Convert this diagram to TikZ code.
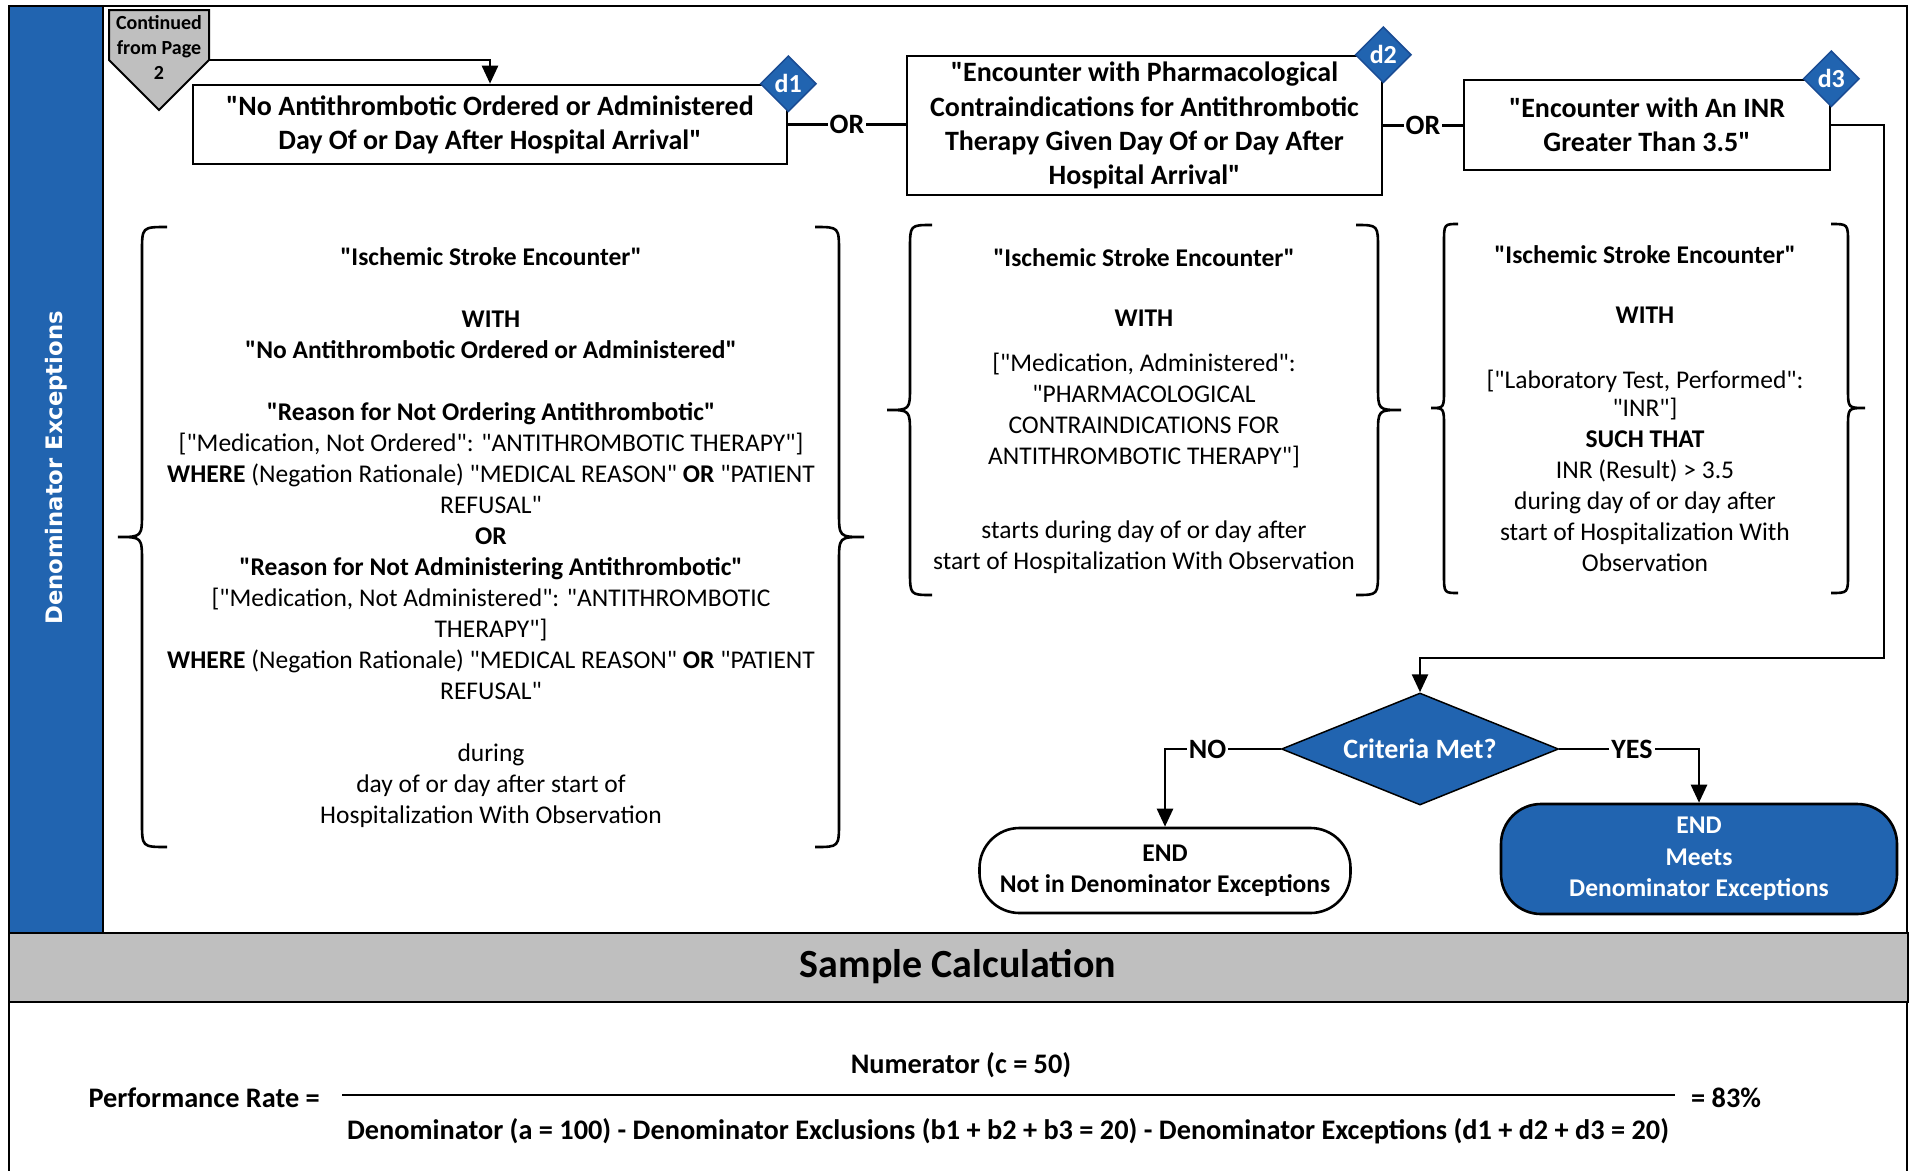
\documentclass[tikz,border=0pt]{standalone}
\usepackage{fontspec}
\setmainfont{Carlito}[Ligatures=TeXOff]
\newfontfamily\lanefamily{DejaVu Sans}
\usepackage{tikz}
\usetikzlibrary{shapes,arrows.meta,positioning,calc}

\definecolor{flowblue}{HTML}{2164B0}
\definecolor{badgeedge}{HTML}{1A4C94}
\definecolor{bandgray}{HTML}{BFBFBF}

\newcommand{\boxfont}{\fontsize{28}{34.2}\selectfont\bfseries}
\newcommand{\bracefont}{\fontsize{25.5}{31}\selectfont}
\newcommand{\termfont}{\fontsize{25.5}{31.5}\selectfont\bfseries}
\newcommand{\badgefont}{\fontsize{26}{30}\selectfont\bfseries}
\newcommand{\contfont}{\fontsize{20}{25}\selectfont\bfseries}
\newcommand{\calctitlefont}{\fontsize{40}{48}\selectfont\bfseries}
\newcommand{\calcfont}{\fontsize{28.3}{34}\selectfont\bfseries}
\newcommand{\lanefont}{\lanefamily\bfseries\fontsize{22.7}{27}\selectfont}

\newcommand{\curly}[7]{%
  \draw[bracket] ({#2},{#4}) .. controls ({#1},{#4}) .. ({#1},{#4+#7}) -- ({#1},{#5-#7})
    .. controls ({#1},{#5}) .. ({#3},{#5}) .. controls ({#1},{#5}) .. ({#1},{#5+#7})
    -- ({#1},{#6-#7}) .. controls ({#1},{#6}) .. ({#2},{#6});}

\begin{document}
\begin{tikzpicture}[x=1pt, y=-1pt,
    box/.style={rectangle, draw, line width=2.6pt, fill=white, align=center, inner sep=0pt, font=\boxfont},
    badge/.style={diamond, draw=badgeedge, line width=1.5pt, fill=flowblue, text=white, inner sep=0pt, minimum width=56pt, minimum height=56pt, font=\badgefont},
    term/.style={rectangle, rounded corners=40pt, draw, line width=2.6pt, align=center, font=\termfont},
    cond/.style={diamond, draw, line width=1.5pt, fill=flowblue, text=white, inner sep=0pt, aspect=2.47, minimum width=277pt, minimum height=112pt, font=\boxfont},
    clause/.style={align=center, inner sep=0pt, font=\bracefont},
    bracket/.style={line width=2.6pt},
    link/.style={line width=2.6pt},
    arrow/.style={link, -{Triangle[length=18pt, width=16pt]}},
    tag/.style={fill=white, inner sep=2pt, font=\boxfont},
    frame/.style={line width=2.6pt}
]
    \useasboundingbox (0,0) rectangle (1914,1170);

    \fill[flowblue] (9,6) rectangle (103,933);
    \draw[frame] (9,6) rectangle (1907,933);
    \draw[frame] (103,6) -- (103,933);
    \draw[frame, fill=bandgray] (9,933) rectangle (1908,1002);
    \draw[frame] (9,1002) -- (9,1175) (1907,1002) -- (1907,1175);
    \node[rotate=90, text=white, font=\lanefont] (lane) at (56,468) {Denominator Exceptions};

    \draw[line width=2pt, fill=bandgray] (109,10) -- (209,10) -- (209,60) coordinate (contout) -- (159,110) -- (109,60) -- cycle;
    \node[font=\contfont, align=center, inner sep=0pt] (cont) at (159,47) {Continued\\from Page\\2};

    \node[box, minimum width=594pt, minimum height=79pt] (noanti) at (490,124.5) {"No Antithrombotic Ordered or Administered\\Day Of or Day After Hospital Arrival"};
    \node[box, minimum width=475pt, minimum height=139pt] (contra) at (1144.5,125.5) {"Encounter with Pharmacological\\Contraindications for Antithrombotic\\Therapy Given Day Of or Day After\\Hospital Arrival"};
    \node[box, minimum width=366pt, minimum height=90pt] (inr) at (1647,125) {"Encounter with An INR\\Greater Than 3.5"};

    \node[badge] (d1) at (noanti.north east) {d1};
    \node[badge] (d2) at (contra.north east) {d2};
    \node[badge] (d3) at (inr.north east) {d3};

    \draw[arrow] (contout) -| (noanti.north);
    \draw[link] (noanti.east) -- (noanti.east -| contra.west) node[midway, tag] {OR};
    \draw[link] (contra.east) -- (contra.east -| inr.west) node[midway, tag] {OR};

    \curly{142}{167}{118}{227}{537}{847}{25}
    \curly{839}{815}{864}{227}{537}{847}{25}
    \curly{910}{932}{887}{225}{410}{595}{24}
    \curly{1378}{1356}{1401}{225}{410}{595}{24}
    \curly{1444}{1458}{1431}{224}{408}{593}{19}
    \curly{1848}{1831}{1865}{224}{408}{593}{19}

    \node[clause] (ex1) at (491,537.5) {\textbf{"Ischemic Stroke Encounter"}\\[31pt]
      \textbf{WITH}\\
      \textbf{"No Antithrombotic Ordered or Administered"}\\[31pt]
      \textbf{"Reason for Not Ordering Antithrombotic"}\\
      {[}"Medication, Not Ordered": "ANTITHROMBOTIC THERAPY"]\\
      \textbf{WHERE} (Negation Rationale) "MEDICAL REASON" \textbf{OR} "PATIENT\\
      REFUSAL"\\
      \textbf{OR}\\
      \textbf{"Reason for Not Administering Antithrombotic"}\\
      {[}"Medication, Not Administered": "ANTITHROMBOTIC\\
      THERAPY"]\\
      \textbf{WHERE} (Negation Rationale) "MEDICAL REASON" \textbf{OR} "PATIENT\\
      REFUSAL"\\[31pt]
      during\\
      day of or day after start of\\
      Hospitalization With Observation};
    \node[clause] (ex2) at (1144,411) {\textbf{"Ischemic Stroke Encounter"}\\[29pt]
      \textbf{WITH}\\[14pt]
      {[}"Medication, Administered":\\
      "PHARMACOLOGICAL\\
      CONTRAINDICATIONS FOR\\
      ANTITHROMBOTIC THERAPY"]\\[43pt]
      starts during day of or day after\\
      start of Hospitalization With Observation};
    \node[clause] (ex3) at (1645,409) {\textbf{"Ischemic Stroke Encounter"}\\[29pt]
      \textbf{WITH}\\[34pt]
      {[}"Laboratory Test, Performed":\\[-3pt]
      "INR"]\\
      \textbf{SUCH THAT}\\
      INR (Result) > 3.5\\
      during day of or day after\\
      start of Hospitalization With\\
      Observation};

    \coordinate (turn) at (1884,658);
    \node[cond] (crit) at (1420,749) {Criteria Met?};
    \node[term, minimum width=371pt, minimum height=85pt] (endno) at (1165,870.5) {END\\Not in Denominator Exceptions};
    \node[term, fill=flowblue, text=white, minimum width=396pt, minimum height=110pt] (endyes) at (1699,859) {END\\Meets\\Denominator Exceptions};

    \draw[arrow] (inr.east) -| (turn) -| (crit.north);
    \draw[arrow] (crit.west) -| (endno.north) node[pos=0.316, tag] {NO};
    \draw[arrow] (crit.east) -| (endyes.north) node[pos=0.26, tag] {YES};

    \node[font=\calctitlefont] (calc) at (958,967) {Sample Calculation};
    \node[font=\calcfont, inner sep=0pt, anchor=east] (perf) at (320,1098) {Performance Rate =};
    \node[font=\calcfont, inner sep=0pt, anchor=west] (rate) at (1691,1098) {= 83\%};
    \node[font=\calcfont] (num) at (961,1065) {Numerator (c = 50)};
    \node[font=\calcfont] (den) at (1008,1131) {Denominator (a = 100) - Denominator Exclusions (b1 + b2 + b3 = 20) - Denominator Exceptions (d1 + d2 + d3 = 20)};
    \draw[line width=2pt] ([xshift=22pt, yshift=3pt]perf.east) -- ([xshift=-16pt, yshift=3pt]rate.west);
\end{tikzpicture}
\end{document}
